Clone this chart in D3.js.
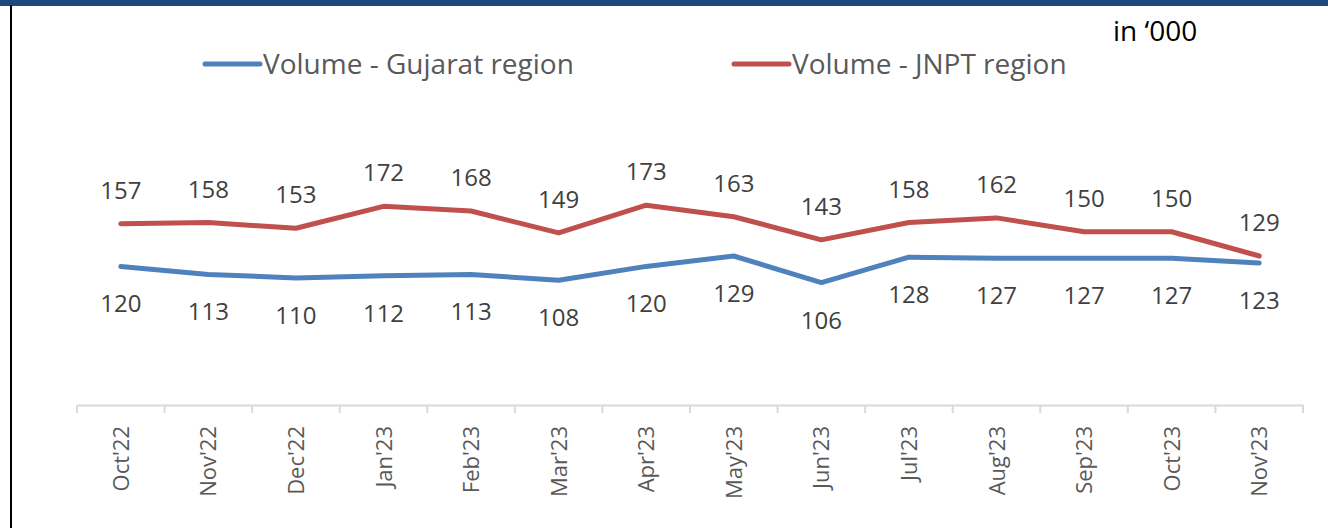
<!DOCTYPE html>
<html>
<head>
<meta charset="utf-8">
<script src="https://cdn.jsdelivr.net/npm/d3@7"></script>
<style>
  body { margin: 0; background: #fff; }
  svg { display: block; }
</style>
</head>
<body>
<div id="chart"></div>
<script>
const months = ["Oct'22", "Nov'22", "Dec'22", "Jan'23", "Feb'23", "Mar'23", "Apr'23",
  "May'23", "Jun'23", "Jul'23", "Aug'23", "Sep'23", "Oct'23", "Nov'23"];
const gujarat = [120, 113, 110, 112, 113, 108, 120, 129, 106, 128, 127, 127, 127, 123];
const jnpt = [157, 158, 153, 172, 168, 149, 173, 163, 143, 158, 162, 150, 150, 129];
const seriesNames = ['Volume - Gujarat region', 'Volume - JNPT region'];

const width = 1328;
const height = 528;
const margin = { top: 174, right: 25, bottom: 123, left: 77 };

const svg = d3.select('#chart').append('svg')
  .attr('width', width)
  .attr('height', height);

// top band and left frame
svg.append('rect').attr('x', 0).attr('y', 0).attr('width', width).attr('height', 6)
  .attr('fill', '#1f497d');
svg.append('line').attr('x1', 11).attr('x2', 11).attr('y1', 5).attr('y2', height)
  .attr('stroke', '#000').attr('stroke-width', 2);

const x = d3.scaleBand()
  .domain(months)
  .range([margin.left, width - margin.right]);

const y = d3.scaleLinear()
  .domain([0, 200])
  .range([height - margin.bottom, margin.top]);

// x axis
const xAxis = svg.append('g')
  .attr('transform', `translate(0,${height - margin.bottom})`)
  .call(d3.axisBottom(x).tickSize(0).tickFormat(''));
xAxis.select('.domain').attr('stroke', '#d9d9d9').attr('stroke-width', 2);

const boundaries = d3.range(months.length + 1)
  .map((i) => margin.left + i * x.step());
xAxis.selectAll('.sep')
  .data(boundaries)
  .enter()
  .append('line')
  .attr('x1', (d) => d).attr('x2', (d) => d)
  .attr('y1', 0).attr('y2', 8)
  .attr('stroke', '#d9d9d9').attr('stroke-width', 2);

xAxis.selectAll('.lbl')
  .data(months)
  .enter()
  .append('text')
  .attr('transform', (d) => `translate(${x(d) + x.bandwidth() / 2 + 8},21) rotate(-90)`)
  .attr('text-anchor', 'end')
  .attr('fill', '#595959')
  .style('font-family', "'Open Sans', sans-serif")
  .style('font-size', '22px')
  .text((d) => d);

const cx = (i) => x(months[i]) + x.bandwidth() / 2;

const line = d3.line()
  .x((d, i) => cx(i))
  .y((d) => y(d));

const series = [
  { name: seriesNames[0], values: gujarat, color: '#4f81bd', dy: 37 },
  { name: seriesNames[1], values: jnpt, color: '#c0504d', dy: -34 },
];

series.forEach((s) => {
  svg.append('path')
    .datum(s.values)
    .attr('fill', 'none')
    .attr('stroke', s.color)
    .attr('stroke-width', 5)
    .attr('stroke-linecap', 'round')
    .attr('stroke-linejoin', 'round')
    .attr('d', line);

  svg.selectAll(null)
    .data(s.values)
    .enter()
    .append('text')
    .attr('x', (d, i) => cx(i))
    .attr('y', (d) => y(d) + s.dy + 9)
    .attr('text-anchor', 'middle')
    .attr('fill', '#404040')
    .style('font-family', "'Open Sans', sans-serif")
    .style('font-size', '24px')
    .text((d) => d);
});

// legend
const legendX = [205, 734];
series.forEach((s, i) => {
  const g = svg.append('g').attr('transform', `translate(${legendX[i]},64)`);
  g.append('line')
    .attr('x1', 0).attr('x2', 55)
    .attr('stroke', s.color).attr('stroke-width', 5).attr('stroke-linecap', 'round');
  g.append('text')
    .attr('x', 58).attr('y', 10)
    .attr('fill', '#595959')
    .style('font-family', "'Open Sans', sans-serif")
    .style('font-size', '28px')
    .text(s.name);
});

svg.append('text')
  .attr('x', 1113).attr('y', 41)
  .attr('fill', '#000')
  .style('font-family', "'Open Sans', sans-serif")
  .style('font-size', '28px')
  .text('in \u2018000');
</script>
</body>
</html>
